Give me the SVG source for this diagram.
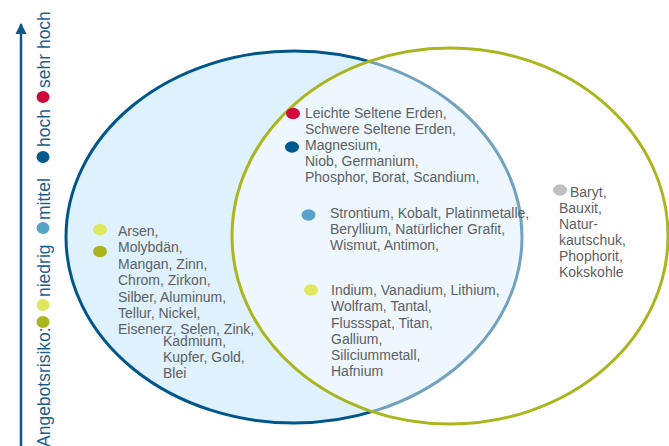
<svg xmlns="http://www.w3.org/2000/svg" width="669" height="446" viewBox="0 0 669 446">
<defs>
<style>
.t{font-family:"Liberation Sans",Arial,sans-serif;font-size:14px;fill:#5d6065}
.lg{font-family:"Liberation Sans",Arial,sans-serif;font-size:17.5px;fill:#1c5f8f}
.red{fill:#cf0a3c}.dblue{fill:#00588b}.lblue{fill:#5ba2cb}.lyel{fill:#dfe85c}.olive{fill:#a8b51d}.gray{fill:#bdbfc2}
</style>
<marker id="ah" viewBox="0 0 10 10" refX="9" refY="5" markerWidth="4.5" markerHeight="4.5" orient="auto"><path d="M0,0 L10,5 L0,10 z" fill="#0f5a8c"/></marker>
</defs>
<rect width="669" height="446" fill="#ffffff"/>
<g id="set-blue"><ellipse cx="294" cy="237" rx="228" ry="186" fill="#def1fc" stroke="#00568a" stroke-width="3"/></g>
<g id="set-green"><ellipse cx="450" cy="236" rx="218" ry="188" fill="#ffffff" fill-opacity="0.45" stroke="#a9b61d" stroke-width="3"/></g>
<g id="connectors"><line x1="21" y1="446" x2="21" y2="24" stroke="#0f5a8c" stroke-width="2.5" marker-end="url(#ah)"/></g>
<g id="legend">
<text class="lg" transform="translate(50,447) rotate(-90)">Angebotsrisiko:</text>
<ellipse class="olive" cx="43" cy="322" rx="6.5" ry="6"/>
<ellipse class="lyel" cx="43" cy="305" rx="6.5" ry="6"/>
<text class="lg" transform="translate(50,297) rotate(-90)">niedrig</text>
<ellipse class="lblue" cx="43" cy="228" rx="6.5" ry="6"/>
<text class="lg" transform="translate(50,220) rotate(-90)">mittel</text>
<ellipse class="dblue" cx="43" cy="157" rx="6.5" ry="6"/>
<text class="lg" transform="translate(50,147) rotate(-90)">hoch</text>
<ellipse class="red" cx="43" cy="97" rx="6.5" ry="6"/>
<text class="lg" transform="translate(50,88) rotate(-90)">sehr hoch</text>
</g>
<g id="group-left">
<ellipse class="lyel" cx="100" cy="229.5" rx="7" ry="5.7"/>
<ellipse class="olive" cx="100" cy="251.5" rx="7" ry="5.7"/>
<text class="t"><tspan x="118" y="235.5">Arsen,</tspan><tspan x="118" y="252">Molybdän,</tspan><tspan x="118" y="268.5">Mangan, Zinn,</tspan><tspan x="118" y="285">Chrom, Zirkon,</tspan><tspan x="118" y="301.5">Silber, Aluminum,</tspan><tspan x="118" y="318">Tellur, Nickel,</tspan><tspan x="118" y="334">Eisenerz, Selen, Zink,</tspan><tspan x="163" y="345.5">Kadmium,</tspan><tspan x="163" y="362">Kupfer, Gold,</tspan><tspan x="163" y="378">Blei</tspan></text>
</g>
<g id="group-red-darkblue">
<ellipse class="red" cx="293" cy="113.5" rx="7" ry="5.7"/>
<ellipse class="dblue" cx="292" cy="147" rx="7" ry="5.7"/>
<text class="t"><tspan x="305" y="118">Leichte Seltene Erden,</tspan><tspan x="305" y="134">Schwere Seltene Erden,</tspan><tspan x="305" y="150">Magnesium,</tspan><tspan x="305" y="166">Niob, Germanium,</tspan><tspan x="305" y="182">Phosphor, Borat, Scandium,</tspan></text>
</g>
<g id="group-lightblue">
<ellipse class="lblue" cx="308.5" cy="215" rx="7" ry="5.7"/>
<text class="t"><tspan x="330" y="218">Strontium, Kobalt, Platinmetalle,</tspan><tspan x="330" y="234">Beryllium, Natürlicher Grafit,</tspan><tspan x="330" y="250">Wismut, Antimon,</tspan></text>
</g>
<g id="group-lightyellow">
<ellipse class="lyel" cx="311" cy="290" rx="7" ry="5.7"/>
<text class="t"><tspan x="331" y="295">Indium, Vanadium, Lithium,</tspan><tspan x="331" y="311.3">Wolfram, Tantal,</tspan><tspan x="331" y="327.5">Flussspat, Titan,</tspan><tspan x="331" y="343.8">Gallium,</tspan><tspan x="331" y="360">Siliciummetall,</tspan><tspan x="331" y="376.3">Hafnium</tspan></text>
</g>
<g id="group-gray">
<ellipse class="gray" cx="560" cy="190" rx="7" ry="5.7"/>
<text class="t"><tspan x="570" y="197">Baryt,</tspan><tspan x="559" y="213">Bauxit,</tspan><tspan x="559" y="229">Natur-</tspan><tspan x="559" y="245">kautschuk,</tspan><tspan x="559" y="261">Phophorit,</tspan><tspan x="559" y="277">Kokskohle</tspan></text>
</g>
</svg>
